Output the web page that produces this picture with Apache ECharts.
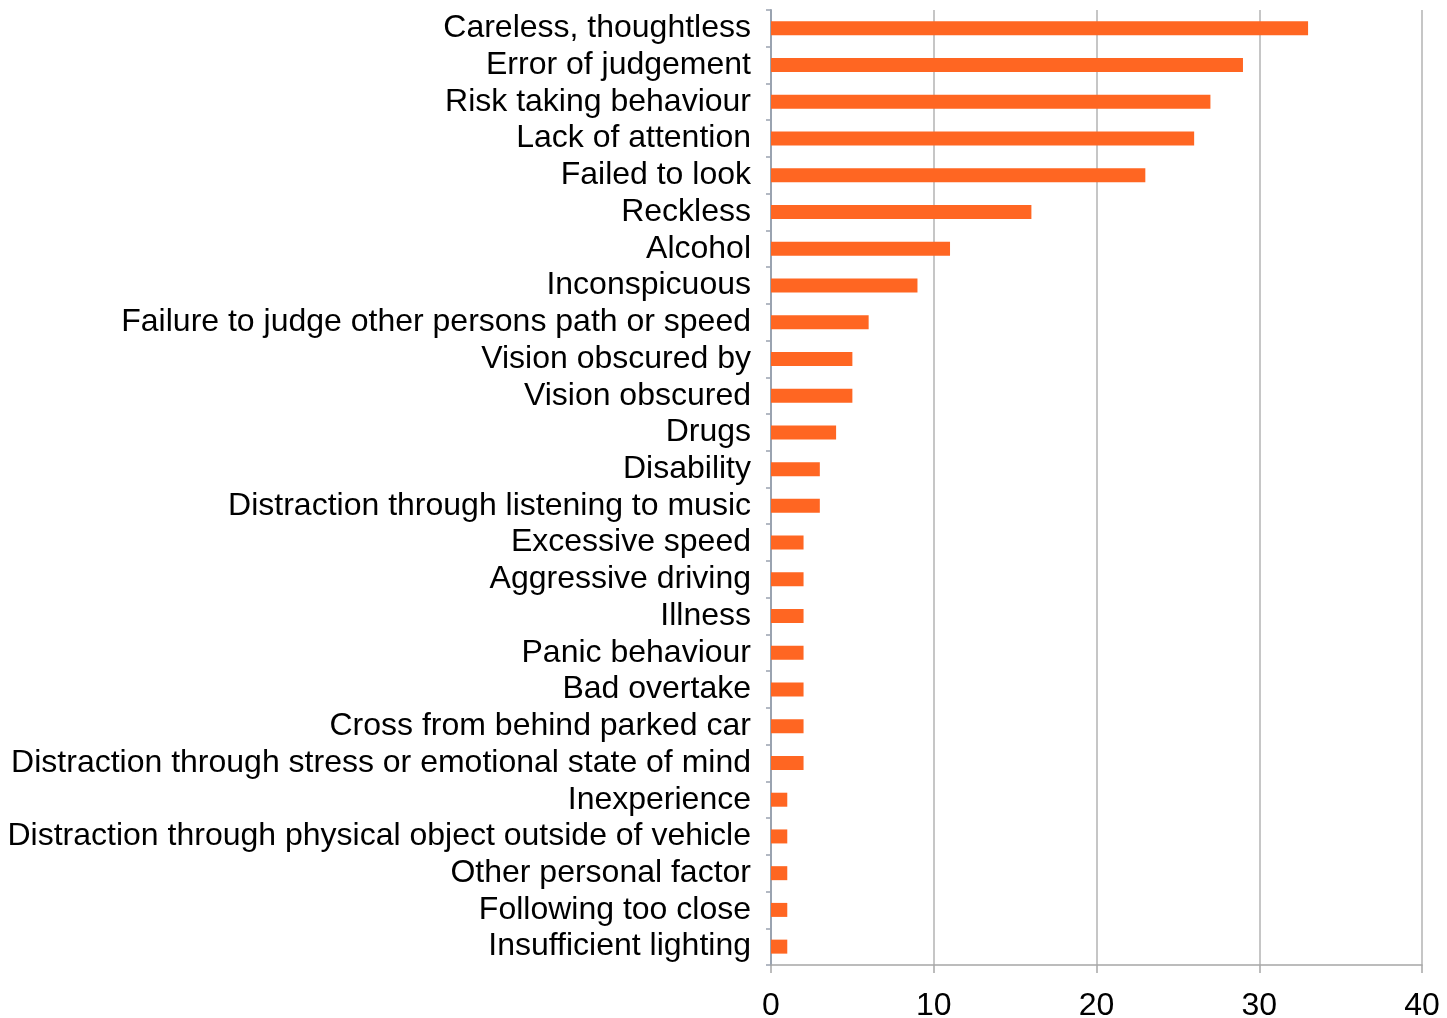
<!DOCTYPE html>
<html>
<head>
<meta charset="utf-8">
<script src="https://cdn.jsdelivr.net/npm/echarts@6/dist/echarts.min.js"></script>
<style>
html,body{margin:0;padding:0;background:#fff;}
#chart{width:1447px;height:1018px;}
</style>
</head>
<body>
<div id="chart"></div>
<script>
const categories = [
  "Careless, thoughtless",
  "Error of judgement",
  "Risk taking behaviour",
  "Lack of attention",
  "Failed to look",
  "Reckless",
  "Alcohol",
  "Inconspicuous",
  "Failure to judge other persons path or speed",
  "Vision obscured by",
  "Vision obscured",
  "Drugs",
  "Disability",
  "Distraction through listening to music",
  "Excessive speed",
  "Aggressive driving",
  "Illness",
  "Panic behaviour",
  "Bad overtake",
  "Cross from behind parked car",
  "Distraction through stress or emotional state of mind",
  "Inexperience",
  "Distraction through physical object outside of vehicle",
  "Other personal factor",
  "Following too close",
  "Insufficient lighting"
];
const values = [33, 29, 27, 26, 23, 16, 11, 9, 6, 5, 5, 4, 3, 3, 2, 2, 2, 2, 2, 2, 2, 1, 1, 1, 1, 1];
const xTicks = { min: 0, max: 40, interval: 10 };

const chart = echarts.init(document.getElementById('chart'), null, { renderer: 'canvas' });
chart.setOption({
  animation: false,
  backgroundColor: '#ffffff',
  grid: { left: 771, right: 25, top: 10, bottom: 53, containLabel: false, outerBoundsMode: 'none' },
  xAxis: {
    type: 'value',
    min: xTicks.min, max: xTicks.max, interval: xTicks.interval,
    axisLine: { show: true, lineStyle: { color: '#a6a6a6', width: 1.5 } },
    axisTick: { show: true, length: 8, lineStyle: { color: '#a6a6a6', width: 1.5 } },
    splitLine: { show: true, lineStyle: { color: '#b3b3b3', width: 1.5 } },
    axisLabel: { color: '#000', fontFamily: 'Liberation Sans, Arial, sans-serif', fontSize: 32, margin: 25 }
  },
  yAxis: {
    type: 'category',
    inverse: true,
    data: categories,
    axisLine: { show: true, lineStyle: { color: '#9aa3b0', width: 2 } },
    axisTick: { show: true, length: 5, lineStyle: { color: '#9aa3b0', width: 1.5 } },
    axisLabel: { interval: 0, color: '#000', fontFamily: 'Liberation Sans, Arial, sans-serif', fontSize: 32, margin: 20, padding: [5, 0, 0, 0] }
  },
  series: [{
    type: 'bar',
    data: values,
    barWidth: 14,
    itemStyle: { color: '#ff6622' },
    silent: true
  }]
});
</script>
</body>
</html>
